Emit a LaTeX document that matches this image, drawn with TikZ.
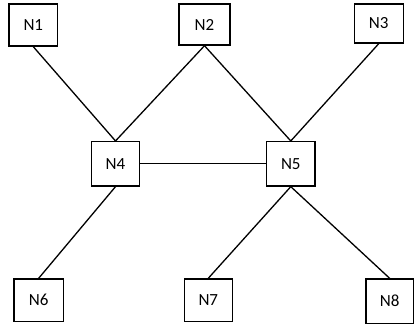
\documentclass[tikz,border=0pt]{standalone}
\usepackage{fontspec}
\setmainfont{Carlito}
\begin{document}
\begin{tikzpicture}[x=1pt,y=-1pt,
  box/.style={draw=black,line width=1.4pt,fill=white,inner sep=0pt,font=\fontsize{17}{19}\selectfont},
  link/.style={draw=black,line width=1.3pt}]
\useasboundingbox (0,0) rectangle (414,325);
\node[box,minimum width=48.7pt,minimum height=42pt] (n1) at (33.3,25) {N1};
\node[box,minimum width=51pt,minimum height=41pt] (n2) at (204.5,24.5) {N2};
\node[box,minimum width=49pt,minimum height=39pt] (n3) at (378.7,23.5) {N3};
\node[box,minimum width=47.6pt,minimum height=44.3pt] (n4) at (115.5,163.8) {N4};
\node[box,minimum width=48.3pt,minimum height=44.3pt] (n5) at (290.8,163.8) {N5};
\node[box,minimum width=49.3pt,minimum height=42.7pt] (n6) at (38.7,300.3) {N6};
\node[box,minimum width=48pt,minimum height=42.7pt] (n7) at (208.3,300.3) {N7};
\node[box,minimum width=47.3pt,minimum height=44.3pt] (n8) at (389.7,301.2) {N8};
\draw[link] (n1.south) -- (n4.north);
\draw[link] (n2.south) -- (n4.north);
\draw[link] (n2.south) -- (n5.north);
\draw[link] (n3.south) -- (n5.north);
\draw[link] (n4.east) -- (n5.west);
\draw[link] (n4.south) -- (n6.north);
\draw[link] (n5.south) -- (n7.north);
\draw[link] (n5.south) -- (n8.north);
\end{tikzpicture}
\end{document}
